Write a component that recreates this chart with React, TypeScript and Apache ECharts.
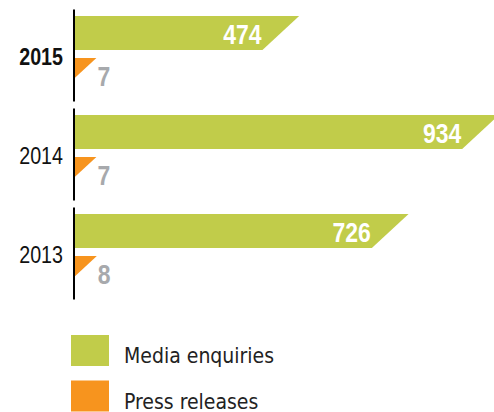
import React, { useEffect, useRef } from "react";
import * as echarts from "echarts";

const years = ["2015", "2014", "2013"];
const mediaEnquiries = [474, 934, 726];
const pressReleases = [7, 7, 8];
const seriesNames = ["Media enquiries", "Press releases"];

const GREEN = "#c1cc4a";
const ORANGE = "#f7941e";
const GRAY = "#a7a9ac";
const NARROW = "'Liberation Sans', Arial, sans-serif";
const COND = "'DejaVu Sans Condensed', 'DejaVu Sans', sans-serif";
const SX = 0.82;

function slantBar(x0: number, xm: number, top: number, h: number, color: string) {
  const s = (h * 1.08) / 2;
  const bot = top + h;
  let pts: number[][];
  if (xm - s >= x0) {
    pts = [[x0, top], [xm + s, top], [xm - s, bot], [x0, bot]];
  } else {
    const t = (xm + s - x0) / (2 * s);
    const yc = top + t * h;
    pts = [[x0, top], [xm + s, top], [x0, yc]];
  }
  return { type: "polygon", shape: { points: pts }, style: { fill: color } };
}

function narrowText(x: number, y: number, text: string, font: string, fill: string, align: string) {
  return {
    type: "text",
    x,
    y,
    scaleX: SX,
    style: { x: 0, y: 0, text, fill, font, align, verticalAlign: "middle" },
  };
}

export default function App() {
  const ref = useRef<HTMLDivElement>(null);
  useEffect(() => {
    if (!ref.current) return;
    const chart = echarts.init(ref.current, null, { renderer: "svg" });
    const H = 34;
    const S = (H * 1.08) / 2;
    const option: any = {
      animation: false,
      color: [GREEN, ORANGE],
      textStyle: { fontFamily: NARROW },
      grid: { left: 75, right: 0, top: 6, height: 297 },
      xAxis: { type: "value", min: 0, max: 965, show: false },
      yAxis: {
        type: "category",
        data: years,
        inverse: true,
        axisLine: { show: false },
        axisTick: { show: false },
        splitLine: { show: false },
        axisLabel: { show: false },
      },
      legend: {
        orient: "vertical",
        left: 71,
        top: 335,
        height: 150,
        padding: 0,
        itemWidth: 38,
        itemHeight: 31,
        itemGap: 14,
        icon: "rect",
        data: seriesNames,
        formatter: (name: string) => `{t|${name}}`,
        textStyle: {
          fontSize: 21,
          color: "#222",
          fontFamily: COND,
          rich: {
            t: { fontSize: 21, color: "#222", fontFamily: COND, padding: [11, 0, 0, 10] },
          },
        },
      },
      series: [
        {
          type: "custom",
          name: seriesNames[0],
          itemStyle: { color: GREEN },
          encode: { x: 0, y: 1 },
          data: mediaEnquiries.map((v, i) => [v, i]),
          renderItem: (params: any, api: any) => {
            const v = api.value(0);
            const idx = api.value(1);
            const base = api.coord([0, idx]);
            const x0 = base[0];
            const cy = base[1];
            const xm = api.coord([v, idx])[0];
            const band = api.size([0, 1])[1];
            const top = cy - 39.5;
            const yr = years[idx];
            return {
              type: "group",
              children: [
                {
                  type: "line",
                  shape: { x1: x0 - 1, y1: cy - band / 2 + 3.5, x2: x0 - 1, y2: cy + band / 2 - 3.5 },
                  style: { stroke: "#000", lineWidth: 2 },
                },
                narrowText(
                  x0 - 12,
                  cy + 1.5,
                  yr,
                  `${idx === 0 ? "bold " : ""}24px ${NARROW}`,
                  "#111",
                  "right"
                ),
                slantBar(x0, xm, top, H, GREEN),
                narrowText(xm - S - 1, top + H / 2 + 1, String(v), `bold 28px ${NARROW}`, "#fff", "right"),
              ],
            };
          },
        },
        {
          type: "custom",
          name: seriesNames[1],
          itemStyle: { color: ORANGE },
          encode: { x: 0, y: 1 },
          data: pressReleases.map((v, i) => [v, i]),
          renderItem: (params: any, api: any) => {
            const v = api.value(0);
            const idx = api.value(1);
            const base = api.coord([0, idx]);
            const x0 = base[0];
            const cy = base[1];
            const xm = api.coord([v, idx])[0];
            const top = cy + 2.5;
            return {
              type: "group",
              children: [
                slantBar(x0, xm, top, H, ORANGE),
                narrowText(xm + S + 1, top + 18, String(v), `bold 28px ${NARROW}`, GRAY, "left"),
              ],
            };
          },
        },
      ],
    };
    chart.setOption(option);
    return () => chart.dispose();
  }, []);
  return (
    <div
      ref={ref}
      style={{ position: "fixed", left: 0, top: 0, width: 494, height: 412, background: "#fff" }}
    />
  );
}
